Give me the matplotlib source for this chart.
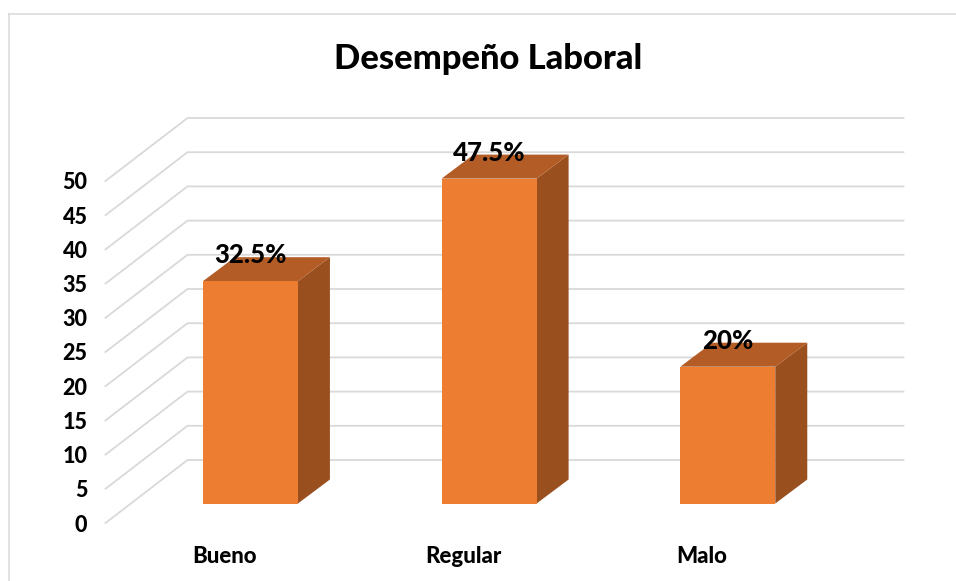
import matplotlib
matplotlib.use("Agg")
import matplotlib.pyplot as plt
from matplotlib.patches import Polygon
from matplotlib.lines import Line2D

categories = ["Bueno", "Regular", "Malo"]
values = [32.5, 47.5, 20]
value_labels = ["32.5%", "47.5%", "20%"]
y_ticks = [0, 5, 10, 15, 20, 25, 30, 35, 40, 45, 50]
title = "Desempeño Laboral"

plt.rcParams["font.family"] = ["Lato", "DejaVu Sans"]

W, H = 956, 581
fig = plt.figure(figsize=(W / 100, H / 100), dpi=100, facecolor="white")

# plot frame in pixels (front plane)
L, R, B, T = 105.5, 821.5, 523.0, 181.0
ax = fig.add_axes([L / W, 1 - B / H, (R - L) / W, (B - T) / H])
ax.set_xlim(-0.5, 2.5)
ax.set_ylim(0, 50)
ax.patch.set_visible(False)
for s in ax.spines.values():
    s.set_visible(False)

px_x = 3.0 / (R - L)      # category units per pixel
px_y = 50.0 / (B - T)     # value units per pixel

WALL_DX, WALL_DY = 82 * px_x, 63 * px_y        # front plane -> back wall
GAP_DX, GAP_DY = 25.6 * px_x, 19.5 * px_y      # front plane -> bar front
BAR_DX, BAR_DY = 32 * px_x, 24 * px_y          # bar depth
BAR_W = 95 * px_x

GRID = "#D9D9D9"
FRONT, SIDE, TOP = "#ED7D31", "#9A4F1E", "#B35C25"

# gridlines: diagonal on the side wall, horizontal on the back wall
for v in y_ticks:
    ax.plot([-0.5, -0.5 + WALL_DX, 2.5 + WALL_DX],
            [v, v + WALL_DY, v + WALL_DY],
            color=GRID, lw=1.3, clip_on=False, zorder=1,
            solid_joinstyle="miter")

# 3-D bars
for i, v in enumerate(values):
    x0 = i - BAR_W / 2 + GAP_DX
    x1 = i + BAR_W / 2 + GAP_DX
    y0 = GAP_DY
    y1 = GAP_DY + v
    ax.add_patch(Polygon([(x1, y0), (x1 + BAR_DX, y0 + BAR_DY),
                          (x1 + BAR_DX, y1 + BAR_DY), (x1, y1)],
                         closed=True, fc=SIDE, ec="none", clip_on=False, zorder=2))
    ax.add_patch(Polygon([(x0, y1), (x1, y1), (x1 + BAR_DX, y1 + BAR_DY),
                          (x0 + BAR_DX, y1 + BAR_DY)],
                         closed=True, fc=TOP, ec="none", clip_on=False, zorder=2))
    ax.add_patch(Polygon([(x0, y0), (x1, y0), (x1, y1), (x0, y1)],
                         closed=True, fc=FRONT, ec="none", clip_on=False, zorder=3))
    ax.text((x0 + x1) / 2, y1 + 26 * px_y, value_labels[i],
            ha="center", va="center", fontsize=18.5, fontweight="black",
            color="black", zorder=5)

# axis labels
ax.set_yticks(y_ticks)
ax.set_yticklabels([str(t) for t in y_ticks], fontsize=15.5, fontweight="black")
ax.set_xticks(range(len(categories)))
ax.set_xticklabels(categories, fontsize=16, fontweight="black")
ax.tick_params(axis="y", length=0, pad=13)
ax.tick_params(axis="x", length=0, pad=16.5)

fig.text(488 / W, 1 - 59 / H, title, ha="center", va="center",
         fontsize=24.8, fontweight="black", color="black")

# chart frame: left and top edges only
fig.add_artist(Line2D([8.5 / W, 8.5 / W], [0, 1 - 13.5 / H], color=GRID, lw=1.1))
fig.add_artist(Line2D([8.5 / W, 1], [1 - 13.5 / H, 1 - 13.5 / H], color=GRID, lw=1.1))

fig.savefig("out.png", dpi=100, facecolor="white")
